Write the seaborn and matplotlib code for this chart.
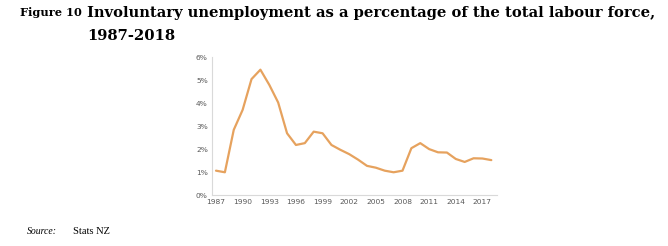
import matplotlib
matplotlib.use("Agg")
import matplotlib.pyplot as plt
import seaborn as sns
import pandas as pd

years = list(range(1987, 2019))
rate = [1.06, 0.99, 2.84, 3.71, 5.05, 5.46, 4.80, 4.03, 2.69, 2.18, 2.26, 2.76,
        2.69, 2.18, 1.97, 1.78, 1.54, 1.27, 1.19, 1.06, 0.99, 1.06, 2.04, 2.26,
        2.00, 1.86, 1.85, 1.57, 1.44, 1.60, 1.59, 1.52]
xticks = list(range(1987, 2018, 3))
yticks = [0, 1, 2, 3, 4, 5, 6]

df = pd.DataFrame({"year": years, "rate": rate})

sns.set_theme(style="white")
fig = plt.figure(figsize=(6.68, 2.46), dpi=100)
ax = fig.add_axes([212/668, 1-195/246, (497-212)/668, (195-57.3)/246])

sns.lineplot(data=df, x="year", y="rate", ax=ax, color="#E6A25E", linewidth=1.6)

ax.set_xlim(1986.55, 2018.64)
ax.set_ylim(0, 6)
ax.set_xticks(xticks)
ax.set_xticklabels([str(t) for t in xticks])
ax.set_yticks(yticks)
ax.set_yticklabels([f"{t}%" for t in yticks])
ax.tick_params(axis="both", length=0, labelsize=5.4, labelcolor="#595959", pad=3)
ax.set_xlabel("")
ax.set_ylabel("")
for s in ["top", "right"]:
    ax.spines[s].set_visible(False)
for s in ["left", "bottom"]:
    ax.spines[s].set_color("#D9D9D9")
    ax.spines[s].set_linewidth(0.8)
ax.grid(False)

tfs = 10.6
fig.text(20/668, 1-13/246, "Figure 10", fontsize=8.2, fontweight="bold",
         family="DejaVu Serif", va="center", ha="left", color="black")
fig.text(87/668, 1-13/246, "Involuntary unemployment as a percentage of the total labour force,",
         fontsize=tfs, fontweight="bold", family="DejaVu Serif", va="center", ha="left",
         color="black")
fig.text(87/668, 1-36/246, "1987-2018", fontsize=tfs, fontweight="bold",
         family="DejaVu Serif", va="center", ha="left", color="black")
fig.text(27/668, 1-232/246, "Source:", fontsize=7, style="italic",
         family="Liberation Serif", va="center", ha="left", color="black")
fig.text(73/668, 1-232/246, "Stats NZ", fontsize=7.5,
         family="Liberation Serif", va="center", ha="left", color="black")

fig.savefig("out.png", dpi=100)
